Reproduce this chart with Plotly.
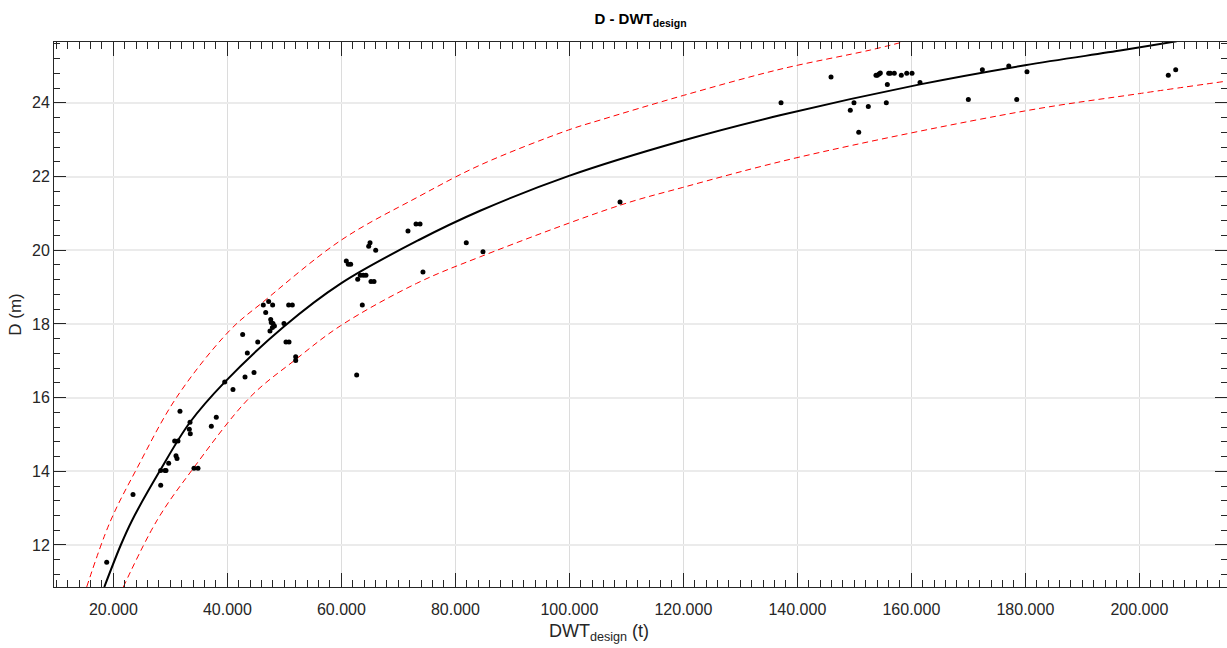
import plotly.graph_objects as go

# ---- data ----
dwt_points = [18825, 23440, 28300, 28300, 29050, 29230, 29700, 30980, 31160, 30750,
              31330, 31680, 33440, 33320, 33490, 34140, 34840, 37180, 38050, 39530,
              40980, 43090, 44670, 43500, 45320, 42680, 46300, 47240, 47940, 46720,
              47600, 47700, 48000, 48250, 47470, 47900, 49930, 50750, 51390, 50280,
              50810, 51980, 51980, 62680, 60860, 61210, 61630, 63670, 62860, 63320,
              63840, 64310, 65190, 65720, 64790, 65020, 66020, 74310, 81910, 84840,
              71680, 73090, 73800, 108880, 137130, 145900, 149930, 149280, 150760, 152440,
              153790, 154020, 154330, 154550, 155780, 155600, 156020, 156300, 157000, 158230,
              159180, 160110, 161510, 169990, 172450, 177080, 178480, 180280, 205070, 206370]
d_points = [11.53, 13.37, 13.62, 14.02, 14.02, 14.02, 14.22, 14.42, 14.35, 14.82,
            14.82, 15.63, 15.33, 15.14, 15.02, 14.08, 14.08, 15.22, 15.47, 16.42,
            16.22, 16.56, 16.68, 17.21, 17.51, 17.71, 18.51, 18.61, 18.51, 18.31,
            18.12, 18.04, 18.01, 17.94, 17.81, 17.90, 18.01, 18.51, 18.51, 17.51,
            17.51, 17.11, 17.01, 16.61, 19.71, 19.62, 19.62, 18.51, 19.21, 19.32,
            19.32, 19.32, 19.15, 19.15, 20.11, 20.20, 20.00, 19.41, 20.20, 19.96,
            20.52, 20.71, 20.71, 21.31, 24.00, 24.70, 24.00, 23.80, 23.20, 23.90,
            24.75, 24.75, 24.78, 24.81, 24.50, 24.00, 24.80, 24.80, 24.80, 24.75,
            24.80, 24.80, 24.55, 24.09, 24.90, 25.00, 24.09, 24.84, 24.75, 24.90]

fit_dwt = [18404, 21300, 23316, 28180, 33440, 39530, 49930, 59930, 73500, 84340,
           99800, 119810, 136950, 161510, 179940, 197170, 206540]
fit_d = [10.86, 12.00, 12.68, 14.02, 15.33, 16.42, 17.93, 19.10, 20.27, 21.07,
         22.01, 22.97, 23.66, 24.50, 25.02, 25.43, 25.67]

upper_dwt = [15316, 19400, 24200, 31100, 40460, 46300, 59930, 73500, 84340, 99800,
             105370, 120000, 136950, 152740, 158500]
upper_d = [10.86, 12.62, 14.10, 16.01, 17.83, 18.60, 20.27, 21.45, 22.31, 23.26,
           23.53, 24.20, 24.91, 25.43, 25.65]

lower_dwt = [21740, 27700, 33730, 43970, 51860, 59850, 73200, 84340, 108880, 119810,
             140450, 179940, 200000, 215400]
lower_d = [10.86, 12.68, 14.02, 16.01, 17.02, 17.95, 19.10, 19.82, 21.22, 21.70,
           22.53, 23.78, 24.25, 24.59]

x_tickvals = [20000, 40000, 60000, 80000, 100000, 120000, 140000, 160000, 180000, 200000]
x_ticktext = ["20.000", "40.000", "60.000", "80.000", "100.000", "120.000",
              "140.000", "160.000", "180.000", "200.000"]
y_tickvals = [12, 14, 16, 18, 20, 22, 24]
y_ticktext = ["12", "14", "16", "18", "20", "22", "24"]

title_text = "<b>D - DWT<sub>design</sub></b>"
x_title = "DWT<sub>design</sub> (t)"
y_title = "D (m)"

fig = go.Figure()
fig.add_trace(go.Scatter(x=upper_dwt, y=upper_d, mode="lines",
                         line=dict(color="#ff0000", width=1, dash="6px,4px", shape="spline"),
                         showlegend=False, hoverinfo="skip"))
fig.add_trace(go.Scatter(x=lower_dwt, y=lower_d, mode="lines",
                         line=dict(color="#ff0000", width=1, dash="6px,4px", shape="spline"),
                         showlegend=False, hoverinfo="skip"))
fig.add_trace(go.Scatter(x=fit_dwt, y=fit_d, mode="lines",
                         line=dict(color="#000000", width=2, shape="spline"),
                         showlegend=False))
fig.add_trace(go.Scatter(x=dwt_points, y=d_points, mode="markers",
                         marker=dict(color="#000000", size=5),
                         showlegend=False, cliponaxis=False))

font_family = "Arial"
tick_font = dict(family=font_family, size=16, color="#262626")

fig.update_layout(
    width=1227, height=648,
    margin=dict(l=54, r=0, t=42, b=61),
    paper_bgcolor="white", plot_bgcolor="white",
    title=dict(text=title_text, x=0.5, xref="paper", xanchor="center",
               y=1 - 19 / 648, yref="container", yanchor="middle",
               font=dict(family=font_family, size=15, color="#000000")),
    xaxis=dict(range=[9580, 215370], tickmode="array", tickvals=x_tickvals, ticktext=x_ticktext,
               ticks="inside", ticklen=14, tickwidth=1, tickcolor="#262626",
               showline=True, linecolor="#262626", linewidth=1, mirror="allticks",
               showgrid=True, gridcolor="#dcdcdc", gridwidth=1, zeroline=False,
               minor=dict(ticks="inside", ticklen=7, tickcolor="#262626", dtick=2000, tick0=0, showgrid=False),
               tickfont=tick_font, ticklabelstandoff=8),
    yaxis=dict(range=[10.86, 25.65], tickmode="array", tickvals=y_tickvals, ticktext=y_ticktext,
               ticks="inside", ticklen=12, tickwidth=1, tickcolor="#262626",
               showline=True, linecolor="#262626", linewidth=1, mirror="allticks",
               showgrid=True, gridcolor="#ebebeb", gridwidth=2, zeroline=False,
               minor=dict(ticks="inside", ticklen=6, tickcolor="#262626", dtick=0.4, tick0=0, showgrid=False),
               tickfont=tick_font,
               title=dict(text=y_title, font=dict(family=font_family, size=17, color="#262626"), standoff=6)),
)

fig.add_annotation(text=x_title, xref="paper", yref="paper",
                   x=(599 - 54) / 1173, y=-(619 - 587) / 545,
                   xanchor="center", yanchor="top", showarrow=False,
                   font=dict(family=font_family, size=18, color="#262626"))

fig.write_html("out.html")
